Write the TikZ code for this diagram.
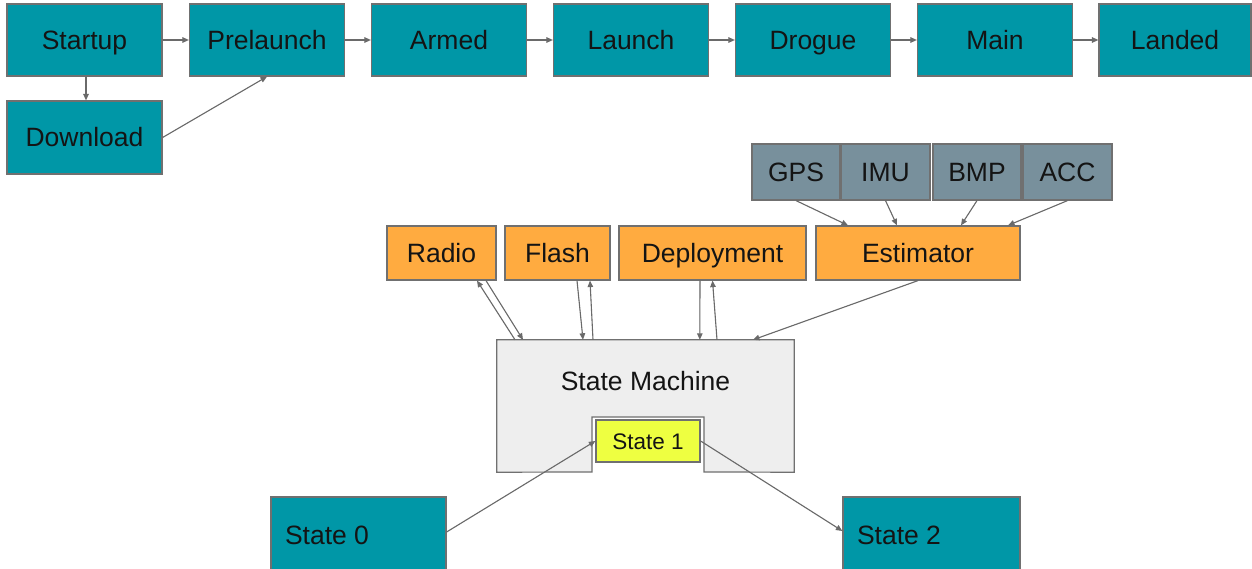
\documentclass[tikz,border=0pt]{standalone}
\usepackage{fontspec}
\setmainfont{Liberation Sans}
\usetikzlibrary{arrows.meta,calc}
\definecolor{tealc}{HTML}{0097A7}
\definecolor{orangec}{HTML}{FFAB40}
\definecolor{bluegrey}{HTML}{78909C}
\definecolor{yellowc}{HTML}{EEFF41}
\definecolor{lightg}{HTML}{EEEEEE}
\definecolor{edgec}{HTML}{707070}
\definecolor{arrc}{HTML}{6A6A6A}
\definecolor{txt}{HTML}{141414}
\tikzset{
  box/.style={draw=edgec, line width=1.2pt, inner sep=0pt, text=txt,
    font=\fontsize{26.5}{30}\selectfont, text height=19pt, text depth=0pt},
  tealbox/.style={box, fill=tealc, minimum width=155pt, minimum height=72pt},
  sensor/.style={box, fill=bluegrey, minimum height=56pt},
  module/.style={box, fill=orangec, minimum height=54pt},
  statebox/.style={box, fill=tealc, minimum height=76pt},
  conn/.style={draw=arrc, line width=1.1pt, -{Triangle[length=6.5pt,width=5.5pt]}, fill=arrc}
}
\begin{document}
\begin{tikzpicture}[x=1pt,y=-1pt]
\useasboundingbox (0,0) rectangle (1252,569);
\clip (0,0) rectangle (1252,569);
\fill[white] (0,0) rectangle (1252,569);
% top row
\node[tealbox] (startup) at (84.5,40) {Startup};
\node[tealbox] (prelaunch) at (267,40) {Prelaunch};
\node[tealbox] (armed) at (449,40) {Armed};
\node[tealbox] (launch) at (631,40) {Launch};
\node[tealbox] (drogue) at (813,40) {Drogue};
\node[tealbox] (main) at (995,40) {Main};
\node[tealbox, minimum width=152pt] (landed) at (1175,40) {Landed};
\node[tealbox, minimum height=73pt] (download) at (84.5,137.5) {Download};
\draw[conn] (startup) -- (prelaunch);
\draw[conn] (prelaunch) -- (armed);
\draw[conn] (armed) -- (launch);
\draw[conn] (launch) -- (drogue);
\draw[conn] (drogue) -- (main);
\draw[conn] (main) -- (landed);
\draw[conn] ([xshift=1.5pt]startup.south) -- ([xshift=1.5pt]download.north);
\draw[conn] (download.east) -- (prelaunch.south);
% sensors
\node[sensor, minimum width=88pt] (gps) at (796,172) {GPS};
\node[sensor, minimum width=89pt] (imu) at (885.5,172) {IMU};
\node[sensor, minimum width=88pt] (bmp) at (977,172) {BMP};
\node[sensor, minimum width=89pt] (acc) at (1067.5,172) {ACC};
% modules
\node[module, minimum width=109pt] (radio) at (441.5,253) {Radio};
\node[module, minimum width=105pt] (flash) at (557.5,253) {Flash};
\node[module, minimum width=187pt] (deploy) at (712.5,253) {Deployment};
\node[module, minimum width=204pt] (est) at (918,253) {Estimator};
\draw[conn] (gps.south) -- ([xshift=-70pt]est.north);
\draw[conn] (imu.south) -- ([xshift=-21pt]est.north);
\draw[conn] (bmp.south) -- ([xshift=43pt]est.north);
\draw[conn] (acc.south) -- ([xshift=90pt]est.north);
% state machine
\node[minimum width=297pt, minimum height=132pt, inner sep=0pt] (sm) at (645.5,406) {};
\draw[draw=edgec, line width=1.2pt, fill=lightg]
  (sm.north west) -- (sm.north east) -- (sm.south east) -- (704,472) -- (704,417)
  -- (592,417) -- (592,472) -- (sm.south west) -- cycle;
\node[text=txt, inner sep=0pt, font=\fontsize{26.5}{30}\selectfont, text height=19pt, text depth=0pt] (smlabel) at (645.5,381) {State Machine};
\node[box, fill=yellowc, minimum width=104pt, minimum height=42pt,
  font=\fontsize{22.5}{26}\selectfont, text height=16pt] (s1) at (648,441) {State 1};
\draw[conn] ([xshift=-130.5pt]sm.north) -- ([xshift=35.5pt]radio.south);
\draw[conn] ([xshift=44.5pt]radio.south) -- ([xshift=-122.5pt]sm.north);
\draw[conn] ([xshift=19.5pt]flash.south) -- ([xshift=-62.5pt]sm.north);
\draw[conn] ([xshift=-52.5pt]sm.north) -- ([xshift=32.5pt]flash.south);
\draw[conn] ([xshift=-12.5pt]deploy.south) -- ([xshift=54.3pt]sm.north);
\draw[conn] ([xshift=71.5pt]sm.north) -- ([xshift=0pt]deploy.south);
\draw[conn] (est.south) -- ([xshift=107.5pt]sm.north);
% states
\node[statebox, minimum width=175pt] (s0) at (358.5,535) {\makebox[147pt][l]{State 0}};
\node[statebox, minimum width=177pt] (s2) at (931.5,535) {\makebox[149pt][l]{State 2}};
\draw[conn] ([yshift=3pt]s0.east) -- (s1.west);
\draw[conn] (s1.east) -- ([yshift=4pt]s2.west);
\end{tikzpicture}
\end{document}
